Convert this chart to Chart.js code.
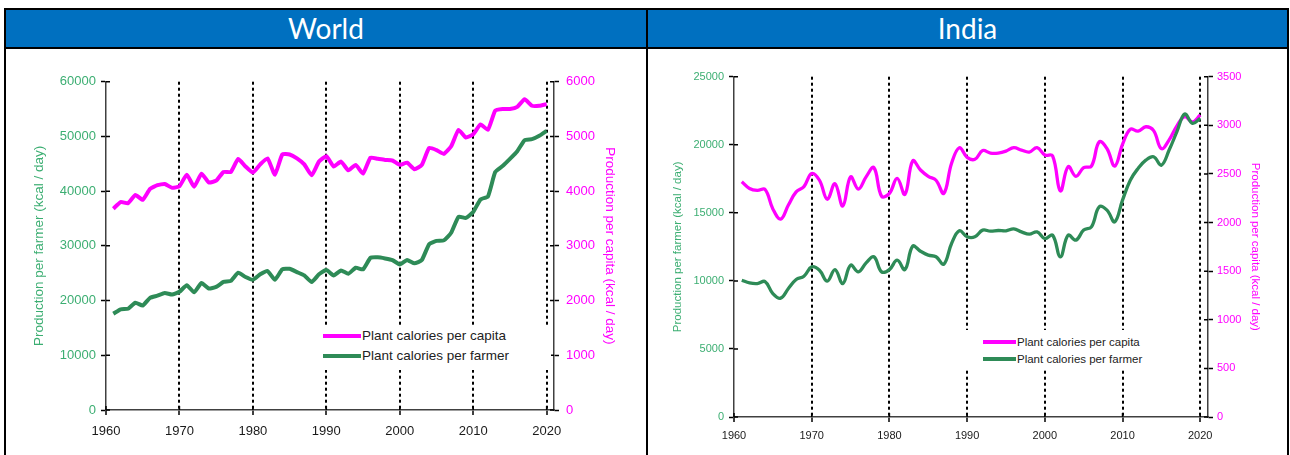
<!DOCTYPE html>
<html>
<head>
<meta charset="utf-8">
<script src="https://cdn.jsdelivr.net/npm/chart.js@4.4.1/dist/chart.umd.min.js"></script>
<style>
  html, body { margin: 0; padding: 0; background: #fff; }
  body { width: 1290px; height: 455px; position: relative; overflow: hidden; font-family: "Liberation Sans", Arial, sans-serif; }
  .hdr { position: absolute; left: 4px; top: 8px; width: 1285px; height: 41px; box-sizing: border-box; background: #0070c0; border: 2px solid #000; }
  .vline { position: absolute; top: 8px; width: 2px; height: 447px; background: #000; }
  .ttl { position: absolute; top: 10px; height: 37px; line-height: 37px; text-align: center; color: #fff; font-family: Lato, "Open Sans", sans-serif; font-size: 28px; }
  canvas { position: absolute; top: 49px; }
  .lgd { position: absolute; background: #fff; color: #222; }
  .lgd .row { position: absolute; left: 0; right: 0; white-space: nowrap; }
  .lgd .sw { position: absolute; }
  .lgd .tx { position: absolute; top: 0; }
</style>
</head>
<body>
<div class="hdr"></div>
<div class="vline" style="left:4px"></div>
<div class="vline" style="left:646px"></div>
<div class="vline" style="left:1287px"></div>
<div class="ttl" style="left:6px; width:640px">World</div>
<div class="ttl" style="left:648px; width:639px">India</div>

<canvas id="world" width="640" height="406" style="left:6px"></canvas>
<canvas id="india" width="639" height="406" style="left:648px"></canvas>

<div class="lgd" id="worldLegend" style="left:320px; top:325px; width:231px; height:45px; font-size:13.5px"></div>
<div class="lgd" id="indiaLegend" style="left:960px; top:330px; width:232px; height:38px; font-size:11.5px"></div>

<script>
// years of the series
const years = [
  1961, 1962, 1963, 1964, 1965, 1966, 1967, 1968, 1969, 1970,
  1971, 1972, 1973, 1974, 1975, 1976, 1977, 1978, 1979, 1980,
  1981, 1982, 1983, 1984, 1985, 1986, 1987, 1988, 1989, 1990,
  1991, 1992, 1993, 1994, 1995, 1996, 1997, 1998, 1999, 2000,
  2001, 2002, 2003, 2004, 2005, 2006, 2007, 2008, 2009, 2010,
  2011, 2012, 2013, 2014, 2015, 2016, 2017, 2018, 2019, 2020
];

// World, kcal / day
const worldPerFarmer = [
  17600, 18400, 18500, 19600, 19100, 20500, 20900, 21400, 21100, 21600,
  22800, 21500, 23200, 22200, 22500, 23400, 23600, 25100, 24300, 23800,
  24800, 25400, 23800, 25700, 25800, 25200, 24600, 23400, 24800, 25600,
  24600, 25500, 24900, 26000, 25700, 27800, 27900, 27700, 27400, 26600,
  27400, 26800, 27400, 30300, 30900, 31000, 32400, 35300, 35100, 36200,
  38500, 39000, 43500, 44600, 45900, 47300, 49300, 49500, 50100, 51000
];
const worldPerCapita = [
  3680, 3800, 3780, 3930, 3840, 4040, 4110, 4130, 4060, 4090,
  4300, 4080, 4320, 4160, 4190, 4350, 4350, 4590, 4450, 4340,
  4490, 4600, 4300, 4670, 4670, 4600, 4490, 4290, 4540, 4640,
  4450, 4540, 4380, 4480, 4320, 4610, 4590, 4570, 4560, 4480,
  4520, 4400, 4480, 4790, 4750, 4680, 4820, 5120, 4980, 5040,
  5220, 5120, 5470, 5500, 5500, 5540, 5680, 5560, 5560, 5590
];

// India, kcal / day
const indiaPerFarmer = [
  10050, 9850, 9800, 9950, 9070, 8730, 9440, 10100, 10340, 11030,
  10780, 9980, 10830, 9800, 11150, 10660, 11320, 11770, 10660, 10830,
  11520, 10830, 12550, 12180, 11890, 11770, 11230, 12750, 13680, 13240,
  13240, 13730, 13650, 13700, 13680, 13820, 13600, 13430, 13600, 13110,
  13360, 11770, 13360, 12990, 13730, 13970, 15440, 15200, 14340, 15930,
  17400, 18260, 18870, 19120, 18500, 19610, 20960, 22260, 21570, 21940
];
const indiaPerCapita = [
  2420, 2350, 2330, 2340, 2140, 2035, 2180, 2315, 2370, 2505,
  2435, 2240, 2400, 2170, 2470, 2345, 2470, 2565, 2270, 2300,
  2455, 2290, 2635, 2540, 2475, 2435, 2300, 2610, 2770, 2670,
  2650, 2740, 2715, 2715, 2735, 2770, 2745, 2725, 2770, 2695,
  2685, 2325, 2575, 2475, 2565, 2580, 2830, 2760, 2580, 2805,
  2960, 2940, 2985, 2945, 2760, 2850, 2995, 3090, 3035, 3105
];

// tick labels
const xTickYears = [1960, 1970, 1980, 1990, 2000, 2010, 2020];
const worldFarmerTicks = [0, 10000, 20000, 30000, 40000, 50000, 60000];
const worldCapitaTicks = [0, 1000, 2000, 3000, 4000, 5000, 6000];
const indiaFarmerTicks = [0, 5000, 10000, 15000, 20000, 25000];
const indiaCapitaTicks = [0, 500, 1000, 1500, 2000, 2500, 3000, 3500];

const seriesNames = ['Plant calories per capita', 'Plant calories per farmer'];

const GREEN = '#2e8b57';
const GREEN_TXT = '#3cae72';
const MAGENTA = '#ff00ff';

Chart.defaults.font.family = '"Liberation Sans", Arial, sans-serif';

// excel-style "cross" tick marks: draw the inner half of each tick
const crossTicks = {
  id: 'crossTicks',
  afterDatasetsDraw(chart) {
    const { ctx, chartArea: a } = chart;
    ctx.save();
    ctx.strokeStyle = '#000';
    ctx.lineWidth = 1.5;
    ctx.beginPath();
    Object.values(chart.scales).forEach(s => {
      s.ticks.forEach(t => {
        const p = s.getPixelForValue(t.value);
        if (s.axis === 'x') { ctx.moveTo(p, a.bottom); ctx.lineTo(p, a.bottom - 4); }
        else if (s.position === 'left') { ctx.moveTo(a.left, p); ctx.lineTo(a.left + 4, p); }
        else { ctx.moveTo(a.right, p); ctx.lineTo(a.right - 4, p); }
      });
    });
    ctx.stroke();
    ctx.restore();
  }
};

function makeChart(id, o) {
  const canvas = document.getElementById(id);
  const W = canvas.width, H = canvas.height;
  return new Chart(canvas.getContext('2d'), {
    type: 'line',
    data: {
      datasets: [
        {
          label: seriesNames[1],
          data: years.map((y, i) => ({ x: y, y: o.farmer[i] })),
          yAxisID: 'y',
          borderColor: GREEN,
          borderWidth: o.lw,
          tension: o.tension,
          pointRadius: 0,
          fill: false
        },
        {
          label: seriesNames[0],
          data: years.map((y, i) => ({ x: y, y: o.capita[i] })),
          yAxisID: 'y2',
          borderColor: MAGENTA,
          borderWidth: o.lw,
          tension: o.tension,
          pointRadius: 0,
          fill: false
        }
      ]
    },
    options: {
      responsive: false,
      animation: false,
      devicePixelRatio: 1,
      layout: { padding: { top: o.top, left: 0, right: 0, bottom: 0 } },
      plugins: { legend: { display: false }, tooltip: { enabled: false } },
      scales: {
        x: {
          type: 'linear',
          min: 1960,
          max: 2021,
          afterBuildTicks: s => { s.ticks = xTickYears.map(v => ({ value: v })); },
          afterFit: s => { s.height = H - o.bottom; },
          ticks: { color: '#1a1a1a', font: { size: o.fs }, padding: o.xPad, maxRotation: 0, autoSkip: false, callback: v => String(v) },
          grid: {
            color: c => (c.tick && c.tick.value === 1960) ? 'rgba(0,0,0,0)' : '#000',
            lineWidth: 2,
            tickLength: 5,
            tickColor: '#000',
            tickWidth: 1.5
          },
          border: { display: true, color: '#404040', width: 1.5, dash: [3, 3] }
        },
        y: {
          position: 'left',
          min: o.farmerTicks[0],
          max: o.farmerTicks[o.farmerTicks.length - 1],
          afterBuildTicks: s => { s.ticks = o.farmerTicks.map(v => ({ value: v })); },
          afterFit: s => { s.width = o.left; },
          ticks: { color: GREEN_TXT, font: { size: o.fs }, padding: o.lPad, callback: v => String(v) },
          grid: { drawOnChartArea: false, tickLength: 5, tickColor: '#000', tickWidth: 1.5 },
          border: { display: true, color: '#404040', width: 1.5 },
          title: { display: true, text: 'Production per farmer (kcal / day)', color: GREEN_TXT, font: { size: o.tfs }, padding: { top: o.ltPad, bottom: 0 } }
        },
        y2: {
          position: 'right',
          min: o.capitaTicks[0],
          max: o.capitaTicks[o.capitaTicks.length - 1],
          afterBuildTicks: s => { s.ticks = o.capitaTicks.map(v => ({ value: v })); },
          afterFit: s => { s.width = W - o.right; },
          ticks: { color: MAGENTA, font: { size: o.fs }, padding: o.rPad, callback: v => String(v) },
          grid: { drawOnChartArea: false, tickLength: 5, tickColor: '#000', tickWidth: 1.5 },
          border: { display: true, color: '#404040', width: 1.5 },
          title: { display: true, text: 'Production per capita (kcal / day)', color: MAGENTA, font: { size: o.tfs }, padding: { top: o.rtPad, bottom: 0 } }
        }
      }
    },
    plugins: [crossTicks]
  });
}

makeChart('world', {
  farmer: worldPerFarmer, capita: worldPerCapita,
  farmerTicks: worldFarmerTicks, capitaTicks: worldCapitaTicks,
  top: 32.7, bottom: 361, left: 100, right: 548,
  fs: 13, tfs: 13.5, xPad: 9, lPad: 5, rPad: 7, ltPad: 25, rtPad: 28,
  lw: 4, tension: 0.15
});

makeChart('india', {
  farmer: indiaPerFarmer, capita: indiaPerCapita,
  farmerTicks: indiaFarmerTicks, capitaTicks: indiaCapitaTicks,
  top: 27.7, bottom: 368, left: 86, right: 560,
  fs: 11, tfs: 11.5, xPad: 7, lPad: 5, rPad: 4, ltPad: 23, rtPad: 25,
  lw: 3.3, tension: 0.4
});

// legends sit inside the plot on a white box
function buildLegend(id, o) {
  const box = document.getElementById(id);
  const colors = [MAGENTA, GREEN];
  seriesNames.forEach((name, i) => {
    const row = document.createElement('div');
    row.className = 'row';
    row.style.top = (o.rows[i] - o.lh / 2) + 'px';
    row.style.height = o.lh + 'px';
    row.style.lineHeight = o.lh + 'px';
    const sw = document.createElement('span');
    sw.className = 'sw';
    sw.style.left = o.swLeft + 'px';
    sw.style.width = o.swWidth + 'px';
    sw.style.height = o.swH + 'px';
    sw.style.top = (o.lh / 2 - o.swH / 2) + 'px';
    sw.style.background = colors[i];
    const tx = document.createElement('span');
    tx.className = 'tx';
    tx.style.left = o.txLeft + 'px';
    tx.textContent = name;
    row.appendChild(sw);
    row.appendChild(tx);
    box.appendChild(row);
  });
}

buildLegend('worldLegend', { rows: [11, 31], lh: 16, swLeft: 3, swWidth: 38, swH: 4, txLeft: 42 });
buildLegend('indiaLegend', { rows: [12, 29], lh: 14, swLeft: 23, swWidth: 33, swH: 3.5, txLeft: 57 });
</script>
</body>
</html>
